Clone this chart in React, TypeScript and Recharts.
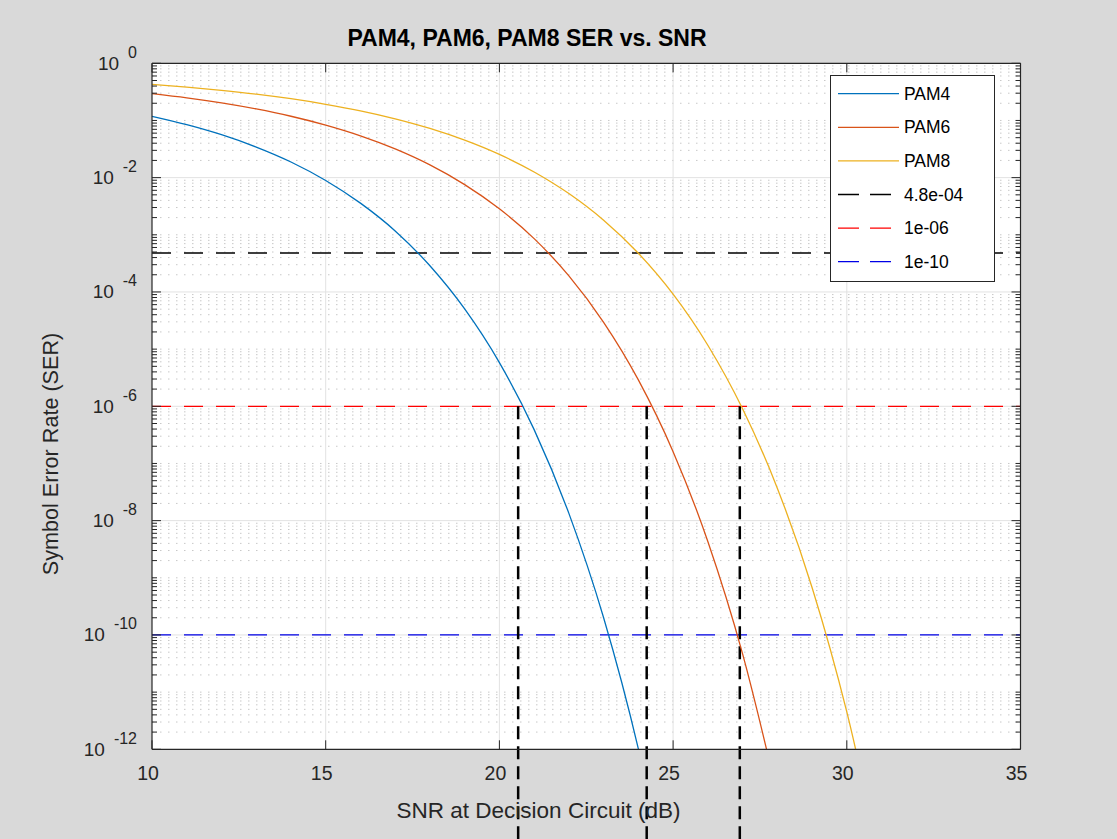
import React from 'react'
import { CartesianGrid, Line, LineChart, ReferenceLine, XAxis, YAxis } from 'recharts'

// SNR axis (dB) and symbol error rates
const SNR_DB = [10, 11, 12, 13, 14, 15, 16, 17, 18, 19, 20, 21, 22, 23, 24, 25, 26, 27, 28, 29, 30, 31]
const PAM4_SER = [0.118, 0.0844, 0.0563, 0.0343, 0.0188, 0.00893, 0.00358, 1.17e-3, 2.87e-4, 5.05e-5, 5.82e-6, 3.91e-7, 1.34e-8, 2.0e-10, 1.02e-12, 1.4e-15]
const PAM6_SER = [0.295, 0.249, 0.203, 0.159, 0.1185, 0.083, 0.0539, 0.0318, 0.0167, 0.00756, 0.00285, 8.57e-4, 1.91e-4, 2.95e-5, 2.9e-6, 1.61e-7, 4.31e-9, 4.66e-11, 1.6e-13]
const PAM8_SER = [0.429, 0.384, 0.337, 0.289, 0.24, 0.192, 0.1475, 0.107, 0.0726, 0.0453, 0.0255, 0.01255, 0.00526, 1.8e-3, 4.76e-4, 9.15e-5, 1.17e-5, 9.04e-7, 3.7e-8, 6.78e-10, 4.5e-12, 8.5e-15]

const SERIES_NAMES = ['PAM4', 'PAM6', 'PAM8']
const SERIES_COLORS = ['#0072BD', '#D95319', '#EDB120']

const THRESHOLDS = [4.8e-4, 1e-6, 1e-10]
const THRESHOLD_LABELS = ['4.8e-04', '1e-06', '1e-10']
const THRESHOLD_COLORS = ['#000000', '#ff0000', '#0000e6']

// SNR where the vertical markers are drawn (from 1e-06 down)
const CROSSING_SNR = [20.54, 24.24, 26.92]

const X_TICKS = [10, 15, 20, 25, 30, 35]
const Y_EXPONENTS = [0, -1, -2, -3, -4, -5, -6, -7, -8, -9, -10, -11, -12]
const MANTISSAS = [1, 2, 3, 4, 5, 6, 7, 8, 9]

const rows = SNR_DB.map((snr, i) => ({
  snr,
  pam4: PAM4_SER[i] ?? null,
  pam6: PAM6_SER[i] ?? null,
  pam8: PAM8_SER[i] ?? null,
}))

const yTicks: number[] = []
Y_EXPONENTS.forEach((e) => {
  if (e === 0) {
    yTicks.push(1)
    return
  }
  MANTISSAS.forEach((m) => yTicks.push(Number((m * Math.pow(10, e)).toPrecision(6))))
})

const isMajor = (v: number) => {
  const lg = Math.log10(v)
  const e = Math.round(lg)
  return Math.abs(lg - e) < 1e-6 && e % 2 === 0
}
const majorY = yTicks.filter((v) => isMajor(v) && v < 1 && v > 1e-12)
const minorY = yTicks.filter((v) => !isMajor(v))

const W = 1117
const H = 839
const PLOT_LEFT = 152
const PLOT_RIGHT = 1020.5
const PLOT_TOP = 63.3
const PLOT_BOTTOM = 749.3
const FONT = '"Liberation Sans", Arial, Helvetica, sans-serif'
const AXIS = '#262626'

function YTick(props: any) {
  const { y, payload } = props
  const v = payload.value
  const major = isMajor(v)
  const len = major ? 9 : 5
  const e = Math.round(Math.log10(v))
  return (
    <g>
      <line x1={PLOT_LEFT} x2={PLOT_LEFT + len} y1={y} y2={y} stroke={AXIS} />
      <line x1={PLOT_RIGHT} x2={PLOT_RIGHT - len} y1={y} y2={y} stroke={AXIS} />
      {major && (
        <text x={PLOT_LEFT - 15} y={y + 6.5} textAnchor="end" fill={AXIS} fontFamily={FONT} fontSize={19}>
          <tspan>10</tspan>
          <tspan dx={9} dy={-12} fontSize={16}>{e}</tspan>
        </text>
      )}
    </g>
  )
}

function XTick(props: any) {
  const { x, payload } = props
  return (
    <g>
      <line x1={x} x2={x} y1={PLOT_BOTTOM} y2={PLOT_BOTTOM - 9} stroke={AXIS} />
      <line x1={x} x2={x} y1={PLOT_TOP} y2={PLOT_TOP + 9} stroke={AXIS} />
      <text x={x - 4} y={780} textAnchor="middle" fill={AXIS} fontFamily={FONT} fontSize={19.5}>
        {payload.value}
      </text>
    </g>
  )
}

function TitleAndXLabel() {
  return (
    <g>
      <text x={527} y={46} textAnchor="middle" fill="#000" fontFamily={FONT} fontSize={23} fontWeight="bold">
        PAM4, PAM6, PAM8 SER vs. SNR
      </text>
      <text x={538.5} y={818} textAnchor="middle" fill={AXIS} fontFamily={FONT} fontSize={22.5}>
        SNR at Decision Circuit (dB)
      </text>
    </g>
  )
}

function YLabel() {
  return (
    <text x={58} y={454} transform="rotate(-90 58 454)" textAnchor="middle" fill={AXIS} fontFamily={FONT} fontSize={21.6}>
      Symbol Error Rate (SER)
    </text>
  )
}

function LegendBox() {
  const entries = [
    ...SERIES_NAMES.map((n, i) => ({ label: n, color: SERIES_COLORS[i], dash: undefined as string | undefined })),
    ...THRESHOLD_LABELS.map((n, i) => ({ label: n, color: THRESHOLD_COLORS[i], dash: '21 11' })),
  ]
  return (
    <svg
      width={165}
      height={207}
      style={{ position: 'absolute', left: 830, top: 75, pointerEvents: 'none' }}
    >
      <rect x={0.5} y={0.5} width={164} height={206} fill="#fff" stroke={AXIS} />
      {entries.map((en, i) => {
        const cy = 18.7 + i * 33.6
        return (
          <g key={en.label}>
            <line x1={8} x2={69} y1={cy} y2={cy} stroke={en.color} strokeWidth={1.3} strokeDasharray={en.dash} />
            <text x={74} y={cy + 6} fill="#000" fontFamily={FONT} fontSize={17.5}>
              {en.label}
            </text>
          </g>
        )
      })}
    </svg>
  )
}

export default function App() {
  return (
    <div style={{ position: 'absolute', left: 0, top: 0, width: W, height: H, background: '#d9d9d9' }}>
      <LineChart
        width={W}
        height={H}
        data={rows}
        margin={{ top: PLOT_TOP, right: W - PLOT_RIGHT, bottom: 0, left: 0 }}
      >
        <CartesianGrid fill="#ffffff" horizontal={false} vertical={false} />
        <XAxis
          dataKey="snr"
          type="number"
          domain={[10, 35]}
          ticks={X_TICKS}
          interval={0}
          height={H - PLOT_BOTTOM}
          axisLine={false}
          tickLine={false}
          tick={<XTick />}
          label={<TitleAndXLabel />}
        />
        <YAxis
          scale="log"
          domain={[1e-12, 1]}
          allowDataOverflow
          ticks={yTicks}
          interval={0}
          width={PLOT_LEFT}
          axisLine={false}
          tickLine={false}
          tick={<YTick />}
          label={<YLabel />}
        />
        {minorY.map((v) => (
          <ReferenceLine key={'mn' + v} y={v} stroke="#c8c8c8" strokeDasharray="1.5 6.5" />
        ))}
        {majorY.map((v) => (
          <ReferenceLine key={'mj' + v} y={v} stroke="#e2e2e2" />
        ))}
        {X_TICKS.slice(1, -1).map((v) => (
          <ReferenceLine key={'vx' + v} x={v} stroke="#e2e2e2" />
        ))}
        {THRESHOLDS.map((t, i) => (
          <ReferenceLine key={'th' + t} y={t} stroke={THRESHOLD_COLORS[i]} strokeWidth={1.3} strokeDasharray="19 13" />
        ))}
        {CROSSING_SNR.map((s) => (
          <ReferenceLine
            key={'cr' + s}
            segment={[{ x: s, y: 1e-6 }, { x: s, y: 1e-30 }]}
            ifOverflow="visible"
            stroke="#000"
            strokeWidth={2.5}
            strokeDasharray="13 7"
          />
        ))}
        <Line dataKey="pam4" type="monotone" stroke={SERIES_COLORS[0]} strokeWidth={1.3} dot={false} isAnimationActive={false} />
        <Line dataKey="pam6" type="monotone" stroke={SERIES_COLORS[1]} strokeWidth={1.3} dot={false} isAnimationActive={false} />
        <Line dataKey="pam8" type="monotone" stroke={SERIES_COLORS[2]} strokeWidth={1.3} dot={false} isAnimationActive={false} />
        <ReferenceLine x={10} stroke={AXIS} strokeWidth={1.2} />
        <ReferenceLine x={35} stroke={AXIS} strokeWidth={1.2} />
        <ReferenceLine y={1} stroke={AXIS} strokeWidth={1.2} />
        <ReferenceLine y={1e-12} stroke={AXIS} strokeWidth={1.2} />
      </LineChart>
      <LegendBox />
    </div>
  )
}
